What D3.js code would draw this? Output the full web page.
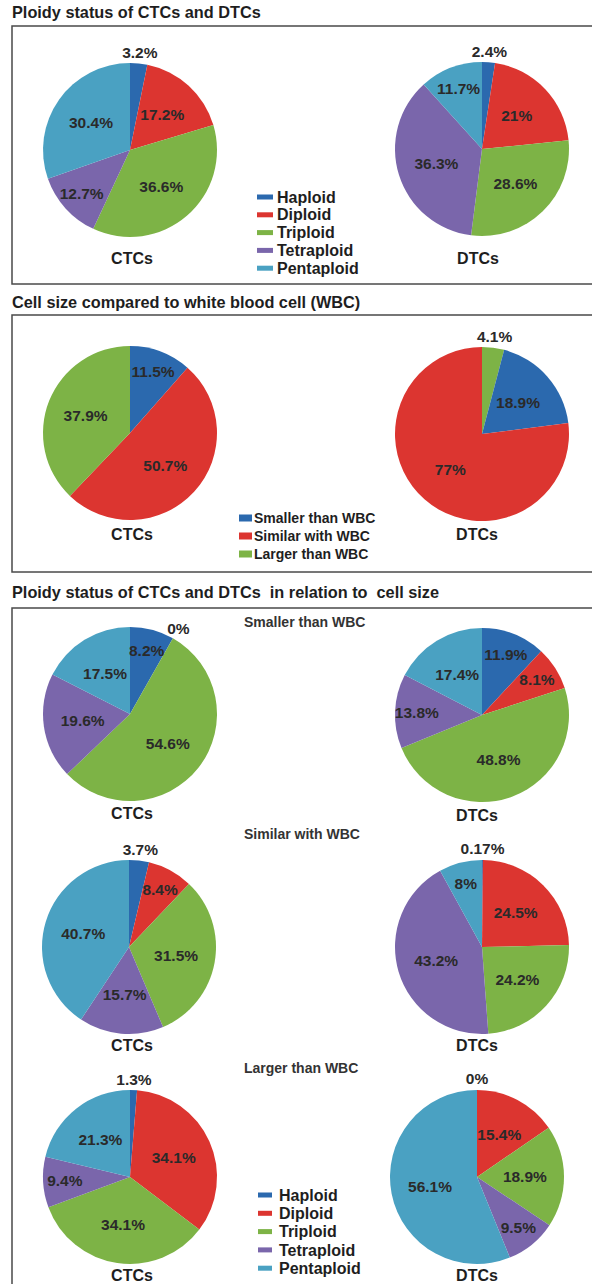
<!DOCTYPE html>
<html><head><meta charset="utf-8">
<script src="https://cdn.jsdelivr.net/npm/d3@7"></script>
<style>
html,body{margin:0;padding:0;background:#fff;}
svg{display:block;font-family:"Liberation Sans",Arial,sans-serif;}
</style>
</head><body>
<svg id="chart" width="592" height="1284"></svg>
<script>
// ---- data ----
const ploidyCats = ["Haploid", "Diploid", "Triploid", "Tetraploid", "Pentaploid"];
const sizeCats = ["Smaller than WBC", "Similar with WBC", "Larger than WBC"];
const groupNames = ["CTCs", "DTCs"];

const ploidyCTC = [3.2, 17.2, 36.6, 12.7, 30.4];
const ploidyDTC = [2.4, 21, 28.6, 36.3, 11.7];

const sizeCTC = [11.5, 50.7, 37.9];
const sizeDTC = [18.9, 77, 4.1];
const sizeDTCOrder = [2, 0, 1]; // slice drawing order (Larger first)

const smallerCTC = [8.2, 0, 54.6, 19.6, 17.5];
const smallerDTC = [11.9, 8.1, 48.8, 13.8, 17.4];
const similarCTC = [3.7, 8.4, 31.5, 15.7, 40.7];
const similarDTC = [0.17, 24.5, 24.2, 43.2, 8];
const largerCTC = [1.3, 34.1, 34.1, 9.4, 21.3];
const largerDTC = [0, 15.4, 18.9, 9.5, 56.1];

const titles = [
  "Ploidy status of CTCs and DTCs",
  "Cell size compared to white blood cell (WBC)",
  "Ploidy status of CTCs and DTCs  in relation to  cell size"
];

// ---- styles ----
const ploidyColors = ["#2b69ae", "#dc3530", "#7db346", "#7a66ab", "#4aa1c2"];
const sizeColors = [ploidyColors[0], ploidyColors[1], ploidyColors[2]];
const textColor = "#2a2a2a";
const R = 87;

const svg = d3.select("#chart");
svg.append("rect").attr("width", 592).attr("height", 1284).attr("fill", "#fff");

// titles
const titleY = [18, 308, 598];
titles.forEach((t, i) => {
  svg.append("text").attr("x", 12).attr("y", titleY[i])
    .attr("font-size", 16.3).attr("font-weight", "bold").attr("fill", "#1e1e1e")
    .style("white-space", "pre").attr("xml:space", "preserve").text(t);
});

// boxes
const boxes = [[26, 284], [315, 572], [608, 1300]];
boxes.forEach(([y0, y1]) => {
  svg.append("rect").attr("x", 12).attr("y", y0).attr("width", 640).attr("height", y1 - y0)
    .attr("fill", "none").attr("stroke", "#4a4a4a").attr("stroke-width", 1.5);
});

const pie = d3.pie().sort(null).value(d => d.v);
const arc = d3.arc().innerRadius(0).outerRadius(R);

function fmt(v) { return String(v) + "%"; }

function drawPie(cx, cy, values, colors, order, name, nameX, nameY) {
  const idx = order || values.map((_, i) => i);
  const data = idx.map(i => ({ v: values[i], c: colors[i] }));
  const arcs = pie(data);
  const g = svg.append("g").attr("transform", `translate(${cx},${cy})`);
  g.selectAll("path").data(arcs).join("path")
    .attr("d", arc).attr("fill", d => d.data.c);
  g.selectAll("text.lbl").data(arcs).join("text").attr("class", "lbl")
    .attr("transform", d => {
      const a = (d.startAngle + d.endAngle) / 2;
      const v = d.data.v;
      const rad = v < 5 ? R + 11 : (v < 15 ? 0.75 * R : 0.55 * R);
      return `translate(${Math.sin(a) * rad},${-Math.cos(a) * rad})`;
    })
    .attr("text-anchor", "middle").attr("dy", "0.35em")
    .attr("font-size", 15.5).attr("font-weight", "bold").attr("fill", textColor)
    .text(d => fmt(d.data.v));
  svg.append("text").attr("x", nameX).attr("y", nameY).attr("text-anchor", "middle")
    .attr("font-size", 16).attr("font-weight", "bold").attr("fill", "#1e1e1e").text(name);
}

function drawLegend(x, y0, step, cats, colors, fs, sw, sh, gap) {
  cats.forEach((c, i) => {
    const y = y0 + i * step;
    svg.append("rect").attr("x", x).attr("y", y - sh / 2).attr("width", sw).attr("height", sh)
      .attr("fill", colors[i]);
    svg.append("text").attr("x", x + sw + gap).attr("y", y).attr("dy", "0.35em")
      .attr("font-size", fs).attr("font-weight", "bold").attr("fill", "#1e1e1e").text(c);
  });
}

// Panel 1
drawPie(130, 150, ploidyCTC, ploidyColors, null, groupNames[0], 132, 264);
drawPie(482, 149, ploidyDTC, ploidyColors, null, groupNames[1], 478, 264);
drawLegend(257, 197, 17.8, ploidyCats, ploidyColors, 16, 16, 5, 4);

// Panel 2
drawPie(130, 433, sizeCTC, sizeColors, null, groupNames[0], 132, 540);
drawPie(482, 434, sizeDTC, sizeColors, sizeDTCOrder, groupNames[1], 477, 540);
drawLegend(239, 518, 18, sizeCats, sizeColors, 14, 13, 7, 2);

// Panel 3
const subX = 244;
const subY = [627, 839, 1073];
sizeCats.forEach((s, i) => {
  svg.append("text").attr("x", subX).attr("y", subY[i])
    .attr("font-size", 14).attr("font-weight", "bold").attr("fill", "#333").text(s);
});
drawPie(130, 714, smallerCTC, ploidyColors, null, groupNames[0], 132, 819);
drawPie(482, 715, smallerDTC, ploidyColors, null, groupNames[1], 477, 821);
drawPie(129, 947, similarCTC, ploidyColors, null, groupNames[0], 132, 1051);
drawPie(482, 947, similarDTC, ploidyColors, null, groupNames[1], 477, 1051);
drawPie(130, 1177, largerCTC, ploidyColors, null, groupNames[0], 132, 1281);
drawPie(477, 1177, largerDTC, ploidyColors, null, groupNames[1], 477, 1281);
drawLegend(258, 1195, 18.3, ploidyCats, ploidyColors, 16, 14, 5, 7);
</script>
</body></html>
